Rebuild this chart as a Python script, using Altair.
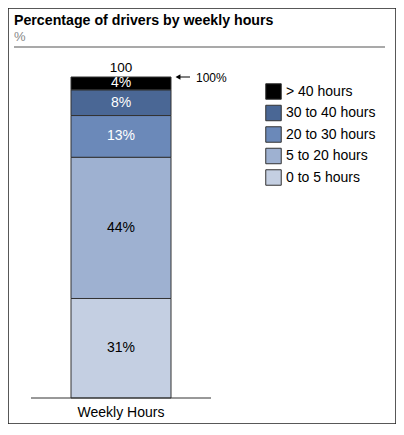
import altair as alt
import pandas as pd

# data
categories = ["0 to 5 hours", "5 to 20 hours", "20 to 30 hours", "30 to 40 hours", "> 40 hours"]
shares = [31, 44, 13, 8, 4]
colors = ["#c4cfe2", "#9eb1d1", "#6b89b9", "#4a6795", "#000000"]
label_colors = ["black", "black", "white", "white", "white"]
bar_name = "Weekly Hours"
total = 100
title = "Percentage of drivers by weekly hours"
unit = "%"

FONT = "Liberation Sans"

df = pd.DataFrame({"band": categories, "share": shares, "label_color": label_colors})
df["x"] = bar_name
df["end"] = df["share"].cumsum()
df["start"] = df["end"] - df["share"]
df["mid"] = (df["start"] + df["end"]) / 2
df["label"] = df["share"].astype(str) + "%"

tot_df = pd.DataFrame({"x": [bar_name], "total": [total], "zero": [0], "tag": [f"{total}%"]})

x_scale = alt.Scale(domain=[bar_name], range=[63, 163], paddingInner=0, paddingOuter=0)
y_scale = alt.Scale(domain=[0, 100], range=[390, 69])

X = alt.X("x:N", scale=x_scale, axis=None)

bars = alt.Chart(df).mark_bar(stroke="#333", strokeWidth=1).encode(
    x=X,
    y=alt.Y("start:Q", scale=y_scale, axis=None),
    y2="end:Q",
    color=alt.Color(
        "band:N",
        scale=alt.Scale(domain=categories[::-1], range=colors[::-1]),
        legend=alt.Legend(
            title=None, orient="none", legendX=257, legendY=75,
            symbolType="square", symbolSize=240, symbolStrokeColor="#333",
            symbolStrokeWidth=1, symbolOpacity=1, labelFont=FONT,
            labelFontSize=14, labelColor="black", labelOffset=4, rowPadding=0.5,
        ),
    ),
)

def seg_labels(color):
    return alt.Chart(df[df["label_color"] == color]).mark_text(
        fontSize=14, color=color, baseline="middle", font=FONT
    ).encode(x=X, y=alt.Y("mid:Q", scale=y_scale), text="label:N")

total_label = alt.Chart(tot_df).mark_text(
    fontSize=13.5, dy=-5, baseline="alphabetic", font=FONT
).encode(x=X, y=alt.Y("total:Q", scale=y_scale), text="total:Q")

arrow_line = alt.Chart(tot_df).mark_rule(color="black", strokeWidth=1).encode(
    x=alt.value(170), x2=alt.value(182), y=alt.Y("total:Q", scale=y_scale)
)
arrow_head = alt.Chart(tot_df).mark_point(
    shape="triangle-left", filled=True, size=32, color="black", opacity=1
).encode(x=alt.value(170), y=alt.Y("total:Q", scale=y_scale))
arrow_text = alt.Chart(tot_df).mark_text(
    align="left", baseline="middle", fontSize=12, dy=1, font=FONT
).encode(x=alt.value(188), y=alt.Y("total:Q", scale=y_scale), text="tag:N")

baseline = alt.Chart(tot_df).mark_rule(color="#333", strokeWidth=1).encode(
    x=alt.value(23), x2=alt.value(203), y=alt.Y("zero:Q", scale=y_scale)
)
cat_label = alt.Chart(tot_df).mark_text(
    fontSize=14, baseline="alphabetic", font=FONT
).encode(x=X, y=alt.value(409), text="x:N")

head = pd.DataFrame({"title": [title], "unit": [unit]})
title_text = alt.Chart(head).mark_text(
    align="left", baseline="alphabetic", fontSize=14.2, fontWeight="bold", font=FONT
).encode(x=alt.value(6), y=alt.value(17), text="title:N")
unit_text = alt.Chart(head).mark_text(
    align="left", baseline="alphabetic", fontSize=13, color="#888", font=FONT
).encode(x=alt.value(6), y=alt.value(33), text="unit:N")
separator = alt.Chart(head).mark_rule(color="#555", strokeWidth=1.2).encode(
    x=alt.value(6), x2=alt.value(377), y=alt.value(39)
)

chart = alt.layer(
    bars, seg_labels("white"), seg_labels("black"), total_label,
    arrow_line, arrow_head, arrow_text, baseline, cat_label,
    title_text, unit_text, separator,
).properties(
    width=388, height=416, autosize=alt.AutoSizeParams(type="none"), padding=0
).configure_view(stroke="#222", strokeWidth=1.5)

chart.save("out.html", embed_options={"renderer": "svg", "actions": False})
